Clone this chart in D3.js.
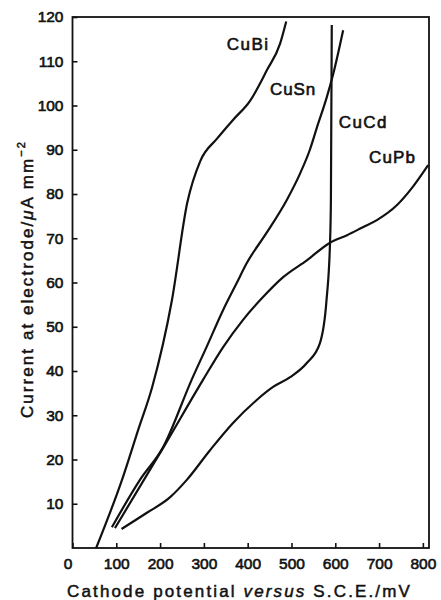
<!DOCTYPE html>
<html>
<head>
<meta charset="utf-8">
<script src="https://cdn.jsdelivr.net/npm/d3@7"></script>
<style>
  body { margin: 0; background: #fff; }
  text { font-family: "Liberation Sans", Arial, sans-serif; fill: #111; }
</style>
</head>
<body>
<div id="chart"></div>
<script>
// Curves: [potential mV, current uA/mm2]
const cuBi = [[54,0],[113,15.4],[150,26.7],[182,36.4],[227,56],[262,78],[292,87.5],[330,92.5],[367,96.8],[405,101],[444,108],[474,114],[488,119]]
const cuSn = [[90,4.7],[154,15.4],[207,22.8],[272,38],[306,45.4],[344,53.8],[375,59.9],[398,64.4],[443,71.2],[489,78.6],[519,84.5],[542,90],[558,95],[581,102],[595,107],[618,117]]
const cuCd = [[112,4.3],[169,7.9],[223,11.5],[261,15.4],[314,22.1],[366,28.2],[420,33.4],[458,36.4],[497,38.6],[535,41.8],[565,46.3],[580,56],[588,69],[590,78.6],[592,118.2]]
const cuPb = [[97,4.5],[211,23.3],[298,38],[344,45.4],[389,51.5],[435,56.7],[481,61.2],[535,65],[588,69],[627,70.7],[663,72.5],[695,74.1],[741,77.5],[777,81.6],[812,86.5]]

const seriesNames = ["CuBi", "CuSn", "CuCd", "CuPb"]
const seriesData = [cuBi, cuSn, cuCd, cuPb]
// where each curve label sits, in data units
const labelAt = [[352,112.5],[451,102.4],[608,94.9],[677,87]]
const labelWidth = [43, 46, 49, 47]

const xTicks = [0, 100, 200, 300, 400, 500, 600, 700, 800]
const yTicks = [10, 20, 30, 40, 50, 60, 70, 80, 90, 100, 110, 120]

// Set up chart dimensions
const W = 441, H = 600
const margin = {top: 17, right: 12, bottom: 52, left: 72.5}
const width = W - margin.left - margin.right
const height = H - margin.top - margin.bottom

const root = d3.select("#chart").append("svg")
    .attr("width", W)
    .attr("height", H)
const svg = root.append("g")
    .attr("transform", "translate(" + margin.left + "," + margin.top + ")")

const x = d3.scaleLinear().domain([0, 814]).range([0, width])
const y = d3.scaleLinear().domain([0, 120]).range([height, 0])

// axes, ticks pointing into the plot
const xAxis = d3.axisBottom(x).tickValues(xTicks).tickSize(-5).tickPadding(10)
const yAxis = d3.axisLeft(y).tickValues(yTicks).tickSize(-5).tickPadding(9)

const gx = svg.append("g")
    .attr("transform", "translate(0," + height + ")")
    .call(xAxis)
const gy = svg.append("g").call(yAxis)

svg.selectAll(".domain").remove()
svg.selectAll(".tick line").attr("stroke", "#111").attr("stroke-width", 1.6)
svg.selectAll(".tick text")
    .attr("font-size", 15.5)
    .attr("font-family", "Liberation Sans, Arial, sans-serif")
    .attr("fill", "#111")
    .attr("stroke", "#111")
    .attr("stroke-width", 0.6)
// the 0 sits a little left of the corner
gx.select(".tick:first-of-type text").attr("dx", -5)

// frame
svg.append("rect")
    .attr("width", width)
    .attr("height", height)
    .attr("fill", "none")
    .attr("stroke", "#111")
    .attr("stroke-width", 1.8)

const line = d3.line()
    .x(d => x(d[0]))
    .y(d => y(d[1]))
    .curve(d3.curveMonotoneX)

svg.selectAll(".curve")
    .data(seriesData)
    .join("path")
    .attr("class", "curve")
    .attr("d", line)
    .attr("fill", "none")
    .attr("stroke", "#111")
    .attr("stroke-width", 2.2)

// stretch text so it spans a given width
function fit(t, target) {
    const n = t.text().length
    const len = t.node().getComputedTextLength()
    t.attr("letter-spacing", (target - len) / n)
}

seriesNames.forEach((name, i) => {
    const t = svg.append("text")
        .attr("x", x(labelAt[i][0]))
        .attr("y", y(labelAt[i][1]))
        .attr("font-size", 17)
        .attr("stroke", "#111")
        .attr("stroke-width", 0.6)
        .text(name)
    fit(t, labelWidth[i])
})

// axis titles
const xt = root.append("text")
    .attr("x", 67)
    .attr("y", 597)
    .attr("font-size", 17)
    .attr("stroke", "#111")
    .attr("stroke-width", 0.5)
xt.append("tspan").text("Cathode potential ")
xt.append("tspan").attr("font-style", "italic").text("versus")
xt.append("tspan").text(" S.C.E./mV")
fit(xt, 345)

const yt = root.append("text")
    .attr("transform", "translate(33,418) rotate(-90)")
    .attr("font-size", 17)
    .attr("stroke", "#111")
    .attr("stroke-width", 0.5)
yt.append("tspan").text("Current at electrode/")
yt.append("tspan").attr("font-style", "italic").text("\u03bc")
yt.append("tspan").text("A mm")
yt.append("tspan").attr("font-size", 11).attr("dy", -8).text("\u22122")
fit(yt, 278)
</script>
</body>
</html>
